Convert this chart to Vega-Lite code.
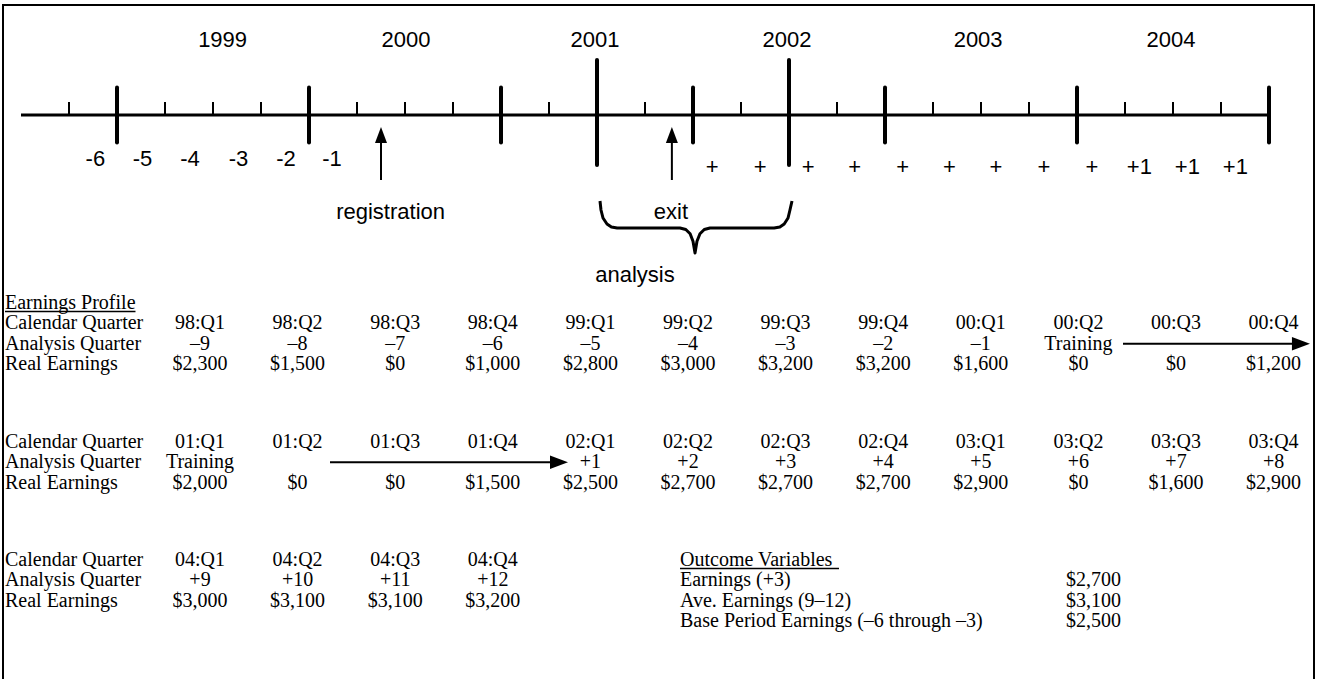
{
  "$schema": "https://vega.github.io/schema/vega-lite/v6.json",
  "width": 1318,
  "height": 679,
  "padding": 0,
  "autosize": {"type": "none"},
  "background": "white",
  "config": {"view": {"stroke": null}},
  "resolve": {"scale": {"x": "independent", "y": "independent"}},
  "datasets": {
    "ticks": [
      {"q": 0, "kind": "small"}, {"q": 1, "kind": "big"}, {"q": 2, "kind": "small"}, {"q": 3, "kind": "small"},
      {"q": 4, "kind": "small"}, {"q": 5, "kind": "big"}, {"q": 6, "kind": "small"}, {"q": 7, "kind": "small"},
      {"q": 8, "kind": "small"}, {"q": 9, "kind": "big"}, {"q": 10, "kind": "small"}, {"q": 11, "kind": "tall"},
      {"q": 12, "kind": "small"}, {"q": 13, "kind": "big"}, {"q": 14, "kind": "small"}, {"q": 15, "kind": "tall"},
      {"q": 16, "kind": "small"}, {"q": 17, "kind": "big"}, {"q": 18, "kind": "small"}, {"q": 19, "kind": "small"},
      {"q": 20, "kind": "small"}, {"q": 21, "kind": "big"}, {"q": 22, "kind": "small"}, {"q": 23, "kind": "small"},
      {"q": 24, "kind": "small"}, {"q": 25, "kind": "big"}
    ],
    "years": [
      {"year": "1999", "q": 3.2}, {"year": "2000", "q": 7.02}, {"year": "2001", "q": 10.96},
      {"year": "2002", "q": 14.96}, {"year": "2003", "q": 18.94}, {"year": "2004", "q": 22.96}
    ],
    "prelabels": [
      {"label": "-6", "q": 0.55}, {"label": "-5", "q": 1.53}, {"label": "-4", "q": 2.52},
      {"label": "-3", "q": 3.53}, {"label": "-2", "q": 4.52}, {"label": "-1", "q": 5.48}
    ],
    "postlabels": [
      {"label": "+", "q": 13.4}, {"label": "+", "q": 14.4}, {"label": "+", "q": 15.4},
      {"label": "+", "q": 16.37}, {"label": "+", "q": 17.37}, {"label": "+", "q": 18.34},
      {"label": "+", "q": 19.31}, {"label": "+", "q": 20.31}, {"label": "+", "q": 21.31},
      {"label": "+1", "q": 22.3}, {"label": "+1", "q": 23.3}, {"label": "+1", "q": 24.3}
    ],
    "events": [
      {"label": "registration", "q": 6.5, "tq": 6.7},
      {"label": "exit", "q": 12.56, "tq": 12.54}
    ],
    "brace": [
      {"k": 1, "q": 11.0625, "y": -3.44}, {"k": 2, "q": 11.083, "y": -3.8}, {"k": 3, "q": 11.125, "y": -4.12},
      {"k": 4, "q": 11.208, "y": -4.36}, {"k": 5, "q": 11.3, "y": -4.48}, {"k": 6, "q": 11.42, "y": -4.52},
      {"k": 7, "q": 12.729, "y": -4.52}, {"k": 8, "q": 12.85, "y": -4.58}, {"k": 9, "q": 12.94, "y": -4.75},
      {"k": 10, "q": 13.0, "y": -5.05}, {"k": 11, "q": 13.042, "y": -5.52}, {"k": 12, "q": 13.083, "y": -5.05},
      {"k": 13, "q": 13.145, "y": -4.75}, {"k": 14, "q": 13.235, "y": -4.58}, {"k": 15, "q": 13.354, "y": -4.52},
      {"k": 16, "q": 14.69, "y": -4.52}, {"k": 17, "q": 14.81, "y": -4.48}, {"k": 18, "q": 14.9, "y": -4.36},
      {"k": 19, "q": 14.98, "y": -4.12}, {"k": 20, "q": 15.02, "y": -3.8}, {"k": 21, "q": 15.0625, "y": -3.44}
    ],
    "rowlabels": [
      {"line": 0, "text": "Earnings Profile"},
      {"line": 1, "text": "Calendar Quarter"}, {"line": 2, "text": "Analysis Quarter"}, {"line": 3, "text": "Real Earnings"},
      {"line": 6.8, "text": "Calendar Quarter"}, {"line": 7.8, "text": "Analysis Quarter"}, {"line": 8.8, "text": "Real Earnings"},
      {"line": 12.6, "text": "Calendar Quarter"}, {"line": 13.6, "text": "Analysis Quarter"}, {"line": 14.6, "text": "Real Earnings"}
    ],
    "cells": [
      {"line": 1, "col": 0, "text": "98:Q1"}, {"line": 1, "col": 1, "text": "98:Q2"}, {"line": 1, "col": 2, "text": "98:Q3"},
      {"line": 1, "col": 3, "text": "98:Q4"}, {"line": 1, "col": 4, "text": "99:Q1"}, {"line": 1, "col": 5, "text": "99:Q2"},
      {"line": 1, "col": 6, "text": "99:Q3"}, {"line": 1, "col": 7, "text": "99:Q4"}, {"line": 1, "col": 8, "text": "00:Q1"},
      {"line": 1, "col": 9, "text": "00:Q2"}, {"line": 1, "col": 10, "text": "00:Q3"}, {"line": 1, "col": 11, "text": "00:Q4"},
      {"line": 2, "col": 0, "text": "–9"}, {"line": 2, "col": 1, "text": "–8"}, {"line": 2, "col": 2, "text": "–7"},
      {"line": 2, "col": 3, "text": "–6"}, {"line": 2, "col": 4, "text": "–5"}, {"line": 2, "col": 5, "text": "–4"},
      {"line": 2, "col": 6, "text": "–3"}, {"line": 2, "col": 7, "text": "–2"}, {"line": 2, "col": 8, "text": "–1"},
      {"line": 2, "col": 9, "text": "Training"},
      {"line": 3, "col": 0, "text": "$2,300"}, {"line": 3, "col": 1, "text": "$1,500"}, {"line": 3, "col": 2, "text": "$0"},
      {"line": 3, "col": 3, "text": "$1,000"}, {"line": 3, "col": 4, "text": "$2,800"}, {"line": 3, "col": 5, "text": "$3,000"},
      {"line": 3, "col": 6, "text": "$3,200"}, {"line": 3, "col": 7, "text": "$3,200"}, {"line": 3, "col": 8, "text": "$1,600"},
      {"line": 3, "col": 9, "text": "$0"}, {"line": 3, "col": 10, "text": "$0"}, {"line": 3, "col": 11, "text": "$1,200"},
      {"line": 6.8, "col": 0, "text": "01:Q1"}, {"line": 6.8, "col": 1, "text": "01:Q2"}, {"line": 6.8, "col": 2, "text": "01:Q3"},
      {"line": 6.8, "col": 3, "text": "01:Q4"}, {"line": 6.8, "col": 4, "text": "02:Q1"}, {"line": 6.8, "col": 5, "text": "02:Q2"},
      {"line": 6.8, "col": 6, "text": "02:Q3"}, {"line": 6.8, "col": 7, "text": "02:Q4"}, {"line": 6.8, "col": 8, "text": "03:Q1"},
      {"line": 6.8, "col": 9, "text": "03:Q2"}, {"line": 6.8, "col": 10, "text": "03:Q3"}, {"line": 6.8, "col": 11, "text": "03:Q4"},
      {"line": 7.8, "col": 0, "text": "Training"},
      {"line": 7.8, "col": 4, "text": "+1"}, {"line": 7.8, "col": 5, "text": "+2"}, {"line": 7.8, "col": 6, "text": "+3"},
      {"line": 7.8, "col": 7, "text": "+4"}, {"line": 7.8, "col": 8, "text": "+5"}, {"line": 7.8, "col": 9, "text": "+6"},
      {"line": 7.8, "col": 10, "text": "+7"}, {"line": 7.8, "col": 11, "text": "+8"},
      {"line": 8.8, "col": 0, "text": "$2,000"}, {"line": 8.8, "col": 1, "text": "$0"}, {"line": 8.8, "col": 2, "text": "$0"},
      {"line": 8.8, "col": 3, "text": "$1,500"}, {"line": 8.8, "col": 4, "text": "$2,500"}, {"line": 8.8, "col": 5, "text": "$2,700"},
      {"line": 8.8, "col": 6, "text": "$2,700"}, {"line": 8.8, "col": 7, "text": "$2,700"}, {"line": 8.8, "col": 8, "text": "$2,900"},
      {"line": 8.8, "col": 9, "text": "$0"}, {"line": 8.8, "col": 10, "text": "$1,600"}, {"line": 8.8, "col": 11, "text": "$2,900"},
      {"line": 12.6, "col": 0, "text": "04:Q1"}, {"line": 12.6, "col": 1, "text": "04:Q2"}, {"line": 12.6, "col": 2, "text": "04:Q3"},
      {"line": 12.6, "col": 3, "text": "04:Q4"},
      {"line": 13.6, "col": 0, "text": "+9"}, {"line": 13.6, "col": 1, "text": "+10"}, {"line": 13.6, "col": 2, "text": "+11"},
      {"line": 13.6, "col": 3, "text": "+12"},
      {"line": 14.6, "col": 0, "text": "$3,000"}, {"line": 14.6, "col": 1, "text": "$3,100"}, {"line": 14.6, "col": 2, "text": "$3,100"},
      {"line": 14.6, "col": 3, "text": "$3,200"}
    ],
    "trainarrows": [
      {"line": 2, "from": 9.457, "to": 11.28},
      {"line": 7.8, "from": 1.332, "to": 3.678}
    ],
    "outcomes": [
      {"line": 12.6, "text": "Outcome Variables", "value": ""},
      {"line": 13.6, "text": "Earnings (+3)", "value": "$2,700"},
      {"line": 14.6, "text": "Ave. Earnings (9–12)", "value": "$3,100"},
      {"line": 15.6, "text": "Base Period Earnings (–6 through –3)", "value": "$2,500"}
    ],
    "underlines": [
      {"line": 0.42, "from": -1.998, "to": -0.661},
      {"line": 13.02, "from": 4.918, "to": 6.547}
    ]
  },
  "layer": [
    {
      "data": {"values": [{}]},
      "mark": {"type": "rect", "filled": false, "color": "black", "strokeWidth": 2},
      "encoding": {
        "x": {"datum": -1.375, "type": "quantitative", "scale": {"domain": [-1.4375, 26.0208], "nice": false, "zero": false}, "axis": null},
        "x2": {"datum": 25.9375},
        "y": {"datum": 4.4, "type": "quantitative", "scale": {"domain": [-22.56, 4.6], "nice": false, "zero": false}, "axis": null},
        "y2": {"datum": -23.2}
      }
    },
    {
      "data": {"values": [{}]},
      "mark": {"type": "rule", "color": "black", "strokeWidth": 3},
      "encoding": {
        "x": {"datum": -1, "type": "quantitative", "scale": {"domain": [-1.4375, 26.0208], "nice": false, "zero": false}, "axis": null},
        "x2": {"datum": 25},
        "y": {"datum": 0, "type": "quantitative", "scale": {"domain": [-22.56, 4.6], "nice": false, "zero": false}, "axis": null}
      }
    },
    {
      "data": {"name": "ticks"},
      "transform": [{"filter": "datum.kind === 'small'"}],
      "mark": {"type": "rule", "color": "black", "strokeWidth": 2},
      "encoding": {
        "x": {"field": "q", "type": "quantitative", "scale": {"domain": [-1.4375, 26.0208], "nice": false, "zero": false}, "axis": null},
        "y": {"datum": 0, "type": "quantitative", "scale": {"domain": [-22.56, 4.6], "nice": false, "zero": false}, "axis": null},
        "y2": {"datum": 0.52}
      }
    },
    {
      "data": {"name": "ticks"},
      "transform": [{"filter": "datum.kind === 'big'"}],
      "mark": {"type": "rule", "color": "black", "strokeWidth": 4, "strokeCap": "round"},
      "encoding": {
        "x": {"field": "q", "type": "quantitative", "scale": {"domain": [-1.4375, 26.0208], "nice": false, "zero": false}, "axis": null},
        "y": {"datum": -1.1, "type": "quantitative", "scale": {"domain": [-22.56, 4.6], "nice": false, "zero": false}, "axis": null},
        "y2": {"datum": 1.1}
      }
    },
    {
      "data": {"name": "ticks"},
      "transform": [{"filter": "datum.kind === 'tall'"}],
      "mark": {"type": "rule", "color": "black", "strokeWidth": 4, "strokeCap": "round"},
      "encoding": {
        "x": {"field": "q", "type": "quantitative", "scale": {"domain": [-1.4375, 26.0208], "nice": false, "zero": false}, "axis": null},
        "y": {"datum": -2.0, "type": "quantitative", "scale": {"domain": [-22.56, 4.6], "nice": false, "zero": false}, "axis": null},
        "y2": {"datum": 2.2}
      }
    },
    {
      "data": {"name": "years"},
      "mark": {"type": "text", "font": "Liberation Sans", "fontSize": 22, "color": "black", "baseline": "middle", "align": "center"},
      "encoding": {
        "x": {"field": "q", "type": "quantitative", "scale": {"domain": [-1.4375, 26.0208], "nice": false, "zero": false}, "axis": null},
        "y": {"datum": 3.0, "type": "quantitative", "scale": {"domain": [-22.56, 4.6], "nice": false, "zero": false}, "axis": null},
        "text": {"field": "year"}
      }
    },
    {
      "data": {"name": "prelabels"},
      "mark": {"type": "text", "font": "Liberation Sans", "fontSize": 22, "color": "black", "baseline": "middle", "align": "center"},
      "encoding": {
        "x": {"field": "q", "type": "quantitative", "scale": {"domain": [-1.4375, 26.0208], "nice": false, "zero": false}, "axis": null},
        "y": {"datum": -1.76, "type": "quantitative", "scale": {"domain": [-22.56, 4.6], "nice": false, "zero": false}, "axis": null},
        "text": {"field": "label"}
      }
    },
    {
      "data": {"name": "postlabels"},
      "mark": {"type": "text", "font": "Liberation Sans", "fontSize": 22, "color": "black", "baseline": "middle", "align": "center"},
      "encoding": {
        "x": {"field": "q", "type": "quantitative", "scale": {"domain": [-1.4375, 26.0208], "nice": false, "zero": false}, "axis": null},
        "y": {"datum": -2.08, "type": "quantitative", "scale": {"domain": [-22.56, 4.6], "nice": false, "zero": false}, "axis": null},
        "text": {"field": "label"}
      }
    },
    {
      "data": {"name": "events"},
      "mark": {"type": "rule", "color": "black", "strokeWidth": 2},
      "encoding": {
        "x": {"field": "q", "type": "quantitative", "scale": {"domain": [-1.4375, 26.0208], "nice": false, "zero": false}, "axis": null},
        "y": {"datum": -2.6, "type": "quantitative", "scale": {"domain": [-22.56, 4.6], "nice": false, "zero": false}, "axis": null},
        "y2": {"datum": -0.9}
      }
    },
    {
      "data": {"name": "events"},
      "mark": {"type": "point", "shape": "M -0.75 1 L 0 -1 L 0.75 1 Z", "filled": true, "color": "black", "size": 256, "opacity": 1, "strokeWidth": 0},
      "encoding": {
        "x": {"field": "q", "type": "quantitative", "scale": {"domain": [-1.4375, 26.0208], "nice": false, "zero": false}, "axis": null},
        "y": {"datum": -0.8, "type": "quantitative", "scale": {"domain": [-22.56, 4.6], "nice": false, "zero": false}, "axis": null}
      }
    },
    {
      "data": {"name": "events"},
      "mark": {"type": "text", "font": "Liberation Sans", "fontSize": 22, "color": "black", "baseline": "middle", "align": "center"},
      "encoding": {
        "x": {"field": "tq", "type": "quantitative", "scale": {"domain": [-1.4375, 26.0208], "nice": false, "zero": false}, "axis": null},
        "y": {"datum": -3.88, "type": "quantitative", "scale": {"domain": [-22.56, 4.6], "nice": false, "zero": false}, "axis": null},
        "text": {"field": "label"}
      }
    },
    {
      "data": {"name": "brace"},
      "mark": {"type": "line", "color": "black", "strokeWidth": 3, "interpolate": "linear", "strokeJoin": "round"},
      "encoding": {
        "x": {"field": "q", "type": "quantitative", "scale": {"domain": [-1.4375, 26.0208], "nice": false, "zero": false}, "axis": null},
        "y": {"field": "y", "type": "quantitative", "scale": {"domain": [-22.56, 4.6], "nice": false, "zero": false}, "axis": null},
        "order": {"field": "k"}
      }
    },
    {
      "data": {"values": [{"label": "analysis", "q": 11.79}]},
      "mark": {"type": "text", "font": "Liberation Sans", "fontSize": 22, "color": "black", "baseline": "middle", "align": "center"},
      "encoding": {
        "x": {"field": "q", "type": "quantitative", "scale": {"domain": [-1.4375, 26.0208], "nice": false, "zero": false}, "axis": null},
        "y": {"datum": -6.38, "type": "quantitative", "scale": {"domain": [-22.56, 4.6], "nice": false, "zero": false}, "axis": null},
        "text": {"field": "label"}
      }
    },
    {
      "data": {"name": "rowlabels"},
      "mark": {"type": "text", "font": "Liberation Serif", "fontSize": 20, "color": "black", "baseline": "middle", "align": "left"},
      "encoding": {
        "x": {"datum": -1.998, "type": "quantitative", "scale": {"domain": [-2.0492, 11.4549], "nice": false, "zero": false}, "axis": null},
        "y": {"field": "line", "type": "quantitative", "scale": {"domain": [-14.853, 18.431], "reverse": true, "nice": false, "zero": false}, "axis": null},
        "text": {"field": "text"}
      }
    },
    {
      "data": {"name": "cells"},
      "mark": {"type": "text", "font": "Liberation Serif", "fontSize": 20, "color": "black", "baseline": "middle", "align": "center"},
      "encoding": {
        "x": {"field": "col", "type": "quantitative", "scale": {"domain": [-2.0492, 11.4549], "nice": false, "zero": false}, "axis": null},
        "y": {"field": "line", "type": "quantitative", "scale": {"domain": [-14.853, 18.431], "reverse": true, "nice": false, "zero": false}, "axis": null},
        "text": {"field": "text"}
      }
    },
    {
      "data": {"name": "trainarrows"},
      "mark": {"type": "rule", "color": "black", "strokeWidth": 2},
      "encoding": {
        "x": {"field": "from", "type": "quantitative", "scale": {"domain": [-2.0492, 11.4549], "nice": false, "zero": false}, "axis": null},
        "x2": {"field": "to"},
        "y": {"field": "line", "type": "quantitative", "scale": {"domain": [-14.853, 18.431], "reverse": true, "nice": false, "zero": false}, "axis": null}
      }
    },
    {
      "data": {"name": "trainarrows"},
      "mark": {"type": "point", "shape": "M -1 -0.75 L 1 0 L -1 0.75 Z", "filled": true, "color": "black", "size": 324, "opacity": 1, "strokeWidth": 0},
      "encoding": {
        "x": {"field": "to", "type": "quantitative", "scale": {"domain": [-2.0492, 11.4549], "nice": false, "zero": false}, "axis": null},
        "y": {"field": "line", "type": "quantitative", "scale": {"domain": [-14.853, 18.431], "reverse": true, "nice": false, "zero": false}, "axis": null}
      }
    },
    {
      "data": {"name": "outcomes"},
      "mark": {"type": "text", "font": "Liberation Serif", "fontSize": 20, "color": "black", "baseline": "middle", "align": "left"},
      "encoding": {
        "x": {"datum": 4.918, "type": "quantitative", "scale": {"domain": [-2.0492, 11.4549], "nice": false, "zero": false}, "axis": null},
        "y": {"field": "line", "type": "quantitative", "scale": {"domain": [-14.853, 18.431], "reverse": true, "nice": false, "zero": false}, "axis": null},
        "text": {"field": "text"}
      }
    },
    {
      "data": {"name": "outcomes"},
      "mark": {"type": "text", "font": "Liberation Serif", "fontSize": 20, "color": "black", "baseline": "middle", "align": "left"},
      "encoding": {
        "x": {"datum": 8.873, "type": "quantitative", "scale": {"domain": [-2.0492, 11.4549], "nice": false, "zero": false}, "axis": null},
        "y": {"field": "line", "type": "quantitative", "scale": {"domain": [-14.853, 18.431], "reverse": true, "nice": false, "zero": false}, "axis": null},
        "text": {"field": "value"}
      }
    },
    {
      "data": {"name": "underlines"},
      "mark": {"type": "rule", "color": "black", "strokeWidth": 1.5},
      "encoding": {
        "x": {"field": "from", "type": "quantitative", "scale": {"domain": [-2.0492, 11.4549], "nice": false, "zero": false}, "axis": null},
        "x2": {"field": "to"},
        "y": {"field": "line", "type": "quantitative", "scale": {"domain": [-14.853, 18.431], "reverse": true, "nice": false, "zero": false}, "axis": null}
      }
    }
  ]
}
